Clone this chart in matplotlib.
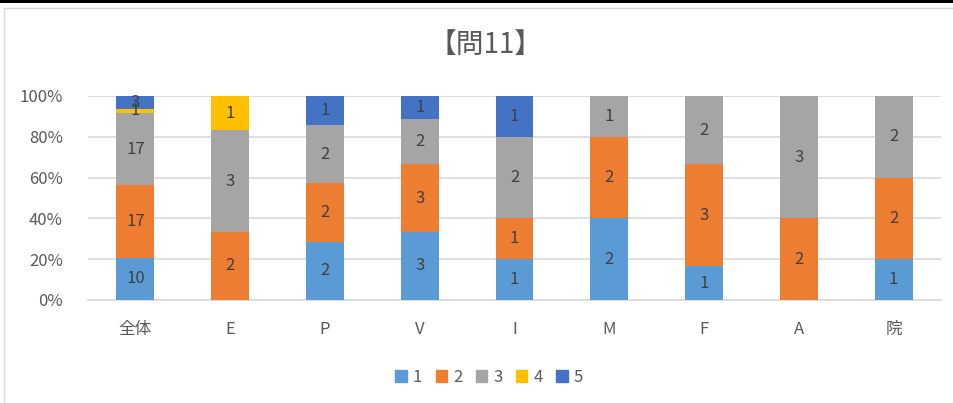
import numpy as np
import matplotlib
matplotlib.use('Agg')
import matplotlib.pyplot as plt
from matplotlib.patches import Rectangle
from matplotlib.lines import Line2D

plt.rcParams['font.family'] = ['Noto Sans CJK JP', 'DejaVu Sans']

categories = ['全体', 'E', 'P', 'V', 'I', 'M', 'F', 'A', '院']
series_names = ['1', '2', '3', '4', '5']
s1 = [10, 0, 2, 3, 1, 2, 1, 0, 1]
s2 = [17, 2, 2, 3, 1, 2, 3, 2, 2]
s3 = [17, 3, 2, 2, 2, 1, 2, 3, 2]
s4 = [1, 1, 0, 0, 0, 0, 0, 0, 0]
s5 = [3, 0, 1, 1, 1, 0, 0, 0, 0]
colors = ['#5B9BD5', '#ED7D31', '#A5A5A5', '#FFC000', '#4472C4']

W, H = 954, 403
fig = plt.figure(figsize=(W / 100, H / 100), dpi=100)
ax = fig.add_axes([88 / W, 1 - 300 / H, (941 - 88) / W, (300 - 96) / H])

data = np.array([s1, s2, s3, s4, s5], dtype=float)
totals = data.sum(axis=0)
pct = data / totals * 100
x = np.arange(len(categories))
bottom = np.zeros(len(categories))

for i in range(len(series_names)):
    ax.bar(x, pct[i], bottom=bottom, width=0.4, color=colors[i], label=series_names[i], zorder=3)
    for j in range(len(categories)):
        if data[i, j] > 0:
            ax.text(x[j], bottom[j] + pct[i, j] / 2, '%d' % data[i, j], ha='center', va='center',
                    fontsize=12, color='#404040', zorder=4)
    bottom += pct[i]

ax.set_xlim(-0.5, len(categories) - 0.5)
ax.set_ylim(0, 100)
ax.set_yticks(np.arange(0, 101, 20))
ax.set_yticklabels(['%d%%' % v for v in range(0, 101, 20)])
ax.set_xticks(x)
ax.set_xticklabels(categories)
ax.tick_params(axis='both', length=0, labelsize=12, labelcolor='#595959')
ax.tick_params(axis='y', pad=18)
ax.tick_params(axis='x', pad=15)
ax.grid(axis='y', color='#D9D9D9', linewidth=1.2, zorder=0)
for sp in ['top', 'right', 'left']:
    ax.spines[sp].set_visible(False)
ax.spines['bottom'].set_color('#D9D9D9')
ax.spines['bottom'].set_linewidth(1.2)

fig.text(486 / W, 1 - 45 / H, '【問11】', ha='center', va='center', fontsize=20, color='#595959')

handles = [Rectangle((0, 0), 1, 1, color=c) for c in colors]
fig.legend(handles, series_names, loc='center', bbox_to_anchor=(489 / W, 1 - 377 / H), ncol=5,
           frameon=False, fontsize=12, labelcolor='#595959', handlelength=0.7, handleheight=0.7,
           handletextpad=0.35, columnspacing=0.8)

# chart frame
fig.add_artist(Rectangle((0, 1 - 3 / H), 1, 3 / H, transform=fig.transFigure, color='black', lw=0))
fig.add_artist(Line2D([4 / W, 1], [1 - 7.5 / H, 1 - 7.5 / H], transform=fig.transFigure, color='#D9D9D9', lw=1))
fig.add_artist(Line2D([4.5 / W, 4.5 / W], [0, 1 - 7.5 / H], transform=fig.transFigure, color='#D9D9D9', lw=1))

fig.savefig('out.png', dpi=100)
